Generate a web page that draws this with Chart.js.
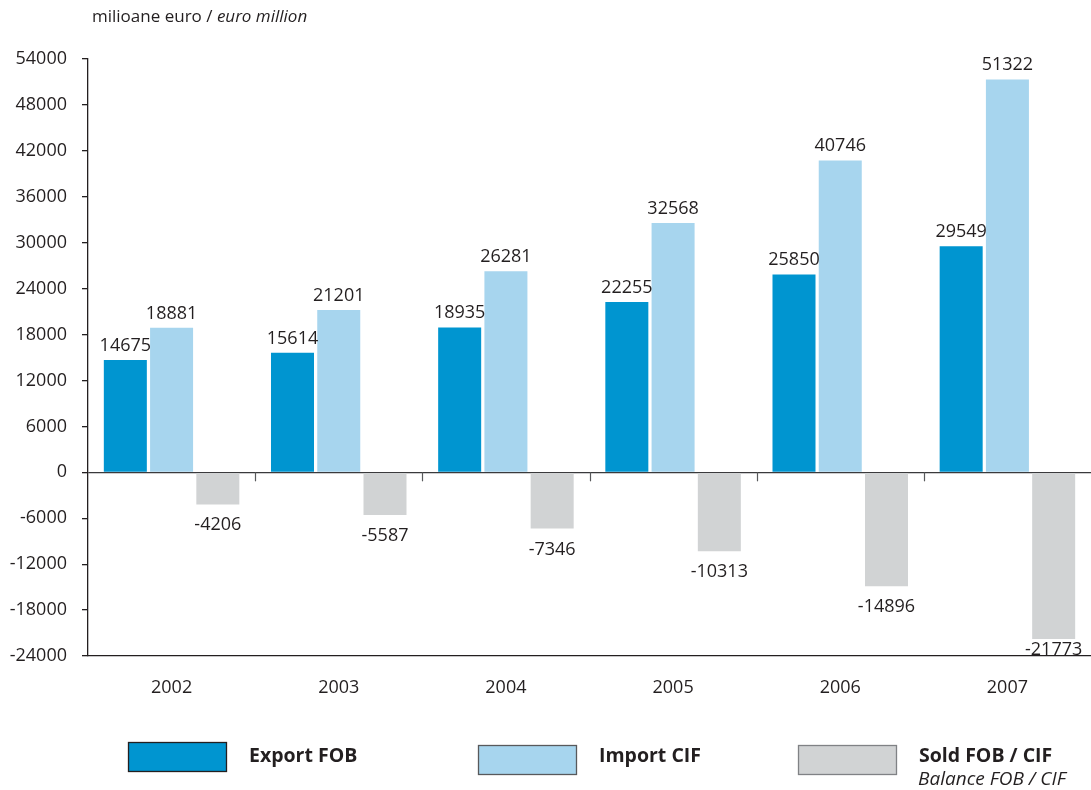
<!DOCTYPE html>
<html>
<head>
<meta charset="utf-8">
<script src="https://cdn.jsdelivr.net/npm/chart.js@4/dist/chart.umd.min.js"></script>
<style>
  html, body { margin: 0; padding: 0; background: #ffffff; }
  #wrap { width: 1091px; height: 790px; position: relative; }
</style>
</head>
<body>
<div id="wrap"><canvas id="c" width="1091" height="790"></canvas></div>
<script>
// ---- data ----
const years = ['2002', '2003', '2004', '2005', '2006', '2007'];
const exportFOB = [14675, 15614, 18935, 22255, 25850, 29549];
const importCIF = [18881, 21201, 26281, 32568, 40746, 51322];
const balanceFOBCIF = [-4206, -5587, -7346, -10313, -14896, -21773];
const yTicks = [-24000, -18000, -12000, -6000, 0, 6000, 12000, 18000, 24000, 30000, 36000, 42000, 48000, 54000];
const seriesNames = ['Export FOB', 'Import CIF', 'Sold FOB / CIF'];
const seriesSubNames = ['', '', 'Balance FOB / CIF'];
const unitRo = 'milioane euro / ';
const unitEn = 'euro million';

const FONT = '"Open Sans", "DejaVu Sans", sans-serif';
const INK = '#231f20';
const colors = ['#0095d0', '#a7d5ee', '#d1d3d4'];

const labelPlugin = {
  id: 'valueLabels',
  afterDatasetsDraw(chart) {
    const ctx = chart.ctx;
    const area = chart.chartArea;
    ctx.save();
    ctx.font = '18px ' + FONT;
    ctx.fillStyle = INK;
    ctx.textAlign = 'center';
    ctx.textBaseline = 'alphabetic';
    chart.data.datasets.forEach((ds, di) => {
      const meta = chart.getDatasetMeta(di);
      meta.data.forEach((bar, i) => {
        const v = ds.data[i];
        let y;
        if (v >= 0) {
          y = bar.y - 9;
        } else {
          y = Math.min(bar.y + 26, area.bottom - 1);
        }
        ctx.fillText(String(v), bar.x, y);
      });
    });
    ctx.restore();
  }
};

const decorPlugin = {
  id: 'decor',
  afterDraw(chart) {
    const ctx = chart.ctx;
    const area = chart.chartArea;
    const ys = chart.scales.y;
    const y0 = ys.getPixelForValue(0);
    ctx.save();
    // category divider ticks on the zero line
    ctx.strokeStyle = '#58595b';
    ctx.lineWidth = 1.2;
    const n = chart.data.labels.length;
    const w = (area.right - area.left) / n;
    for (let i = 1; i < n; i++) {
      const x = Math.round(area.left + w * i) + 0.5;
      ctx.beginPath();
      ctx.moveTo(x, y0);
      ctx.lineTo(x, y0 + 9);
      ctx.stroke();
    }
    // unit title
    ctx.fillStyle = INK;
    ctx.textBaseline = 'alphabetic';
    ctx.textAlign = 'left';
    ctx.font = '17px ' + FONT;
    const tx = 92, ty = 22;
    ctx.fillText(unitRo, tx, ty);
    const wRo = ctx.measureText(unitRo).width;
    ctx.font = 'italic 17px ' + FONT;
    ctx.fillText(unitEn, tx + wRo, ty);
    // legend
    const boxes = [
      { x: 128, y: 742 },
      { x: 478, y: 745 },
      { x: 798, y: 745 }
    ];
    const strokes = ['#231f20', '#58595b', '#808285'];
    boxes.forEach((b, i) => {
      ctx.fillStyle = colors[i];
      ctx.fillRect(b.x, b.y, 98, 29);
      ctx.strokeStyle = strokes[i];
      ctx.lineWidth = 1.3;
      ctx.strokeRect(b.x + 0.5, b.y + 0.5, 98, 29);
      ctx.fillStyle = INK;
      ctx.font = 'bold 19.5px ' + FONT;
      ctx.fillText(seriesNames[i], b.x + 121, 762);
      if (seriesSubNames[i]) {
        ctx.font = 'italic 19px ' + FONT;
        ctx.fillText(seriesSubNames[i], b.x + 120, 785);
      }
    });
    ctx.restore();
  }
};

new Chart(document.getElementById('c'), {
  type: 'bar',
  data: {
    labels: years,
    datasets: [
      { label: seriesNames[0], data: exportFOB, backgroundColor: colors[0] },
      { label: seriesNames[1], data: importCIF, backgroundColor: colors[1] },
      { label: seriesNames[2], data: balanceFOBCIF, backgroundColor: colors[2] }
    ]
  },
  options: {
    responsive: false,
    animation: false,
    devicePixelRatio: 1,
    layout: { padding: { top: 59, right: 0, bottom: 0, left: 0 } },
    datasets: { bar: { categoryPercentage: 0.83, barPercentage: 0.93 } },
    plugins: { legend: { display: false }, tooltip: { enabled: false }, title: { display: false } },
    scales: {
      x: {
        position: 'bottom',
        grid: { display: false, drawTicks: false },
        border: { display: true, color: INK, width: 1.3 },
        ticks: { color: INK, font: { family: FONT, size: 18 }, padding: 21 },
        afterFit(scale) { scale.height = 134; }
      },
      y: {
        min: -24000,
        max: 54000,
        afterBuildTicks(scale) { scale.ticks = yTicks.map(v => ({ value: v })); },
        grid: {
          drawOnChartArea: true,
          color: ctx => (ctx.tick && ctx.tick.value === 0) ? '#3a3a3c' : 'rgba(0,0,0,0)',
          lineWidth: 1.3,
          tickColor: INK,
          tickLength: 6,
          tickWidth: 1.3
        },
        border: { display: true, color: INK, width: 1.3 },
        ticks: {
          color: INK,
          font: { family: FONT, size: 18 },
          padding: 15,
          callback: v => String(v)
        },
        afterFit(scale) { scale.width = 88; }
      }
    }
  },
  plugins: [labelPlugin, decorPlugin]
});
</script>
</body>
</html>
